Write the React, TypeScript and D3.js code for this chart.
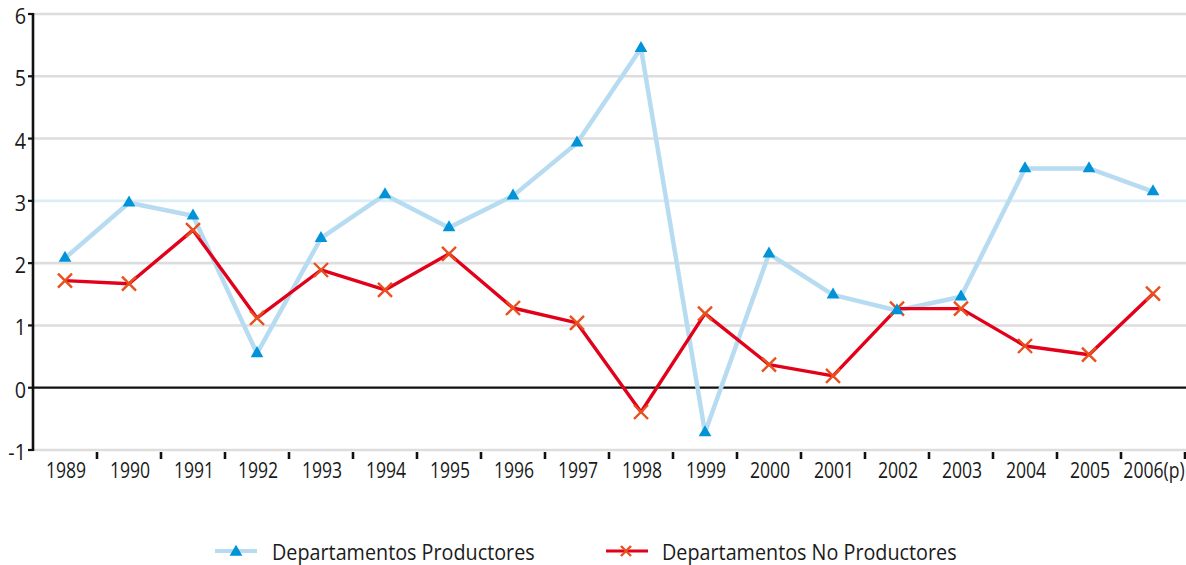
import React from "react";
import * as d3 from "d3";

const years = ["1989","1990","1991","1992","1993","1994","1995","1996","1997","1998","1999","2000","2001","2002","2003","2004","2005","2006(p)"];
const productores = [2.08,2.97,2.76,0.55,2.4,3.1,2.57,3.08,3.93,5.45,-0.72,2.15,1.49,1.24,1.46,3.52,3.52,3.15];
const noProductores = [1.72,1.67,2.53,1.12,1.89,1.57,2.15,1.28,1.04,-0.39,1.19,0.37,0.19,1.27,1.27,0.67,0.53,1.51];
const yTicks = [-1,0,1,2,3,4,5,6];
const seriesNames = ["Departamentos Productores","Departamentos No Productores"];

const W = 1186, H = 565;
const FONT = "'Open Sans', 'Noto Sans', sans-serif";

function SText(props: { x: number; y: number; sx: number; size: number; anchor?: string; children: React.ReactNode }) {
  return (
    <text transform={`translate(${props.x},${props.y}) scale(${props.sx},1)`} dy="0.36em"
      textAnchor={props.anchor || "start"} fontFamily={FONT} fontSize={props.size} fontWeight={500} fill="#1a1a1a">
      {props.children}
    </text>
  );
}

export default function App() {
  const x = d3.scaleBand<string>().domain(years).range([33, 1185]);
  const y = d3.scaleLinear().domain([-1, 6]).range([450, 14]);
  const cx = (i: number) => (x(years[i]) as number) + x.bandwidth() / 2;
  const line = d3.line<number>().x((_, i) => cx(i)).y(d => y(d));
  const tri = d3.symbol().type(d3.symbolTriangle).size(70)();
  const cross = (px: number, py: number, s: number) =>
    `M${px - s},${py - s}L${px + s},${py + s}M${px - s},${py + s}L${px + s},${py - s}`;

  return (
    <svg width={W} height={H} style={{ position: "absolute", left: 0, top: 0, background: "#fff" }}>
      {yTicks.map(t => (
        <line key={"g" + t} x1={33} x2={1186} y1={y(t)} y2={y(t)}
          stroke={t === 0 ? "#111" : t === 3 ? "#d9eef9" : "#dddddd"} strokeWidth={t === 0 ? 2.2 : 2.6} />
      ))}
      <line x1={33} x2={33} y1={y(6) - 1} y2={y(-1) + 1} stroke="#111" strokeWidth={2.6} />
      {yTicks.map(t => (
        <g key={"t" + t}>
          <line x1={28} x2={33} y1={y(t)} y2={y(t)} stroke="#111" strokeWidth={2.2} />
          <SText x={26} y={y(t) + 2} sx={0.9} size={22} anchor="end">{t}</SText>
        </g>
      ))}
      {years.map((yr, i) => (
        <g key={yr}>
          {i > 0 && <line x1={x(yr)} x2={x(yr)} y1={452} y2={459} stroke="#111" strokeWidth={2.6} />}
          <SText x={cx(i) + 1} y={470} sx={0.8} size={22} anchor="middle">{yr}</SText>
        </g>
      ))}
      <line x1={1185} x2={1185} y1={452} y2={459} stroke="#111" strokeWidth={2.6} />
      <path d={line(productores) || ""} fill="none" stroke="#b7dcf1" strokeWidth={4.5} strokeLinejoin="round" />
      <path d={line(noProductores) || ""} fill="none" stroke="#e2001a" strokeWidth={3.4} strokeLinejoin="round" />
      {noProductores.map((v, i) => (
        <path key={"x" + i} d={cross(cx(i), y(v), 7)} stroke="#e8501e" strokeWidth={2.4} fill="none" />
      ))}
      {productores.map((v, i) => (
        <path key={"p" + i} d={tri} transform={`translate(${cx(i)},${y(v)})`} fill="#0093d8" />
      ))}
      {/* legend */}
      <line x1={215} x2={257} y1={551} y2={551} stroke="#b7dcf1" strokeWidth={4} />
      <path d={tri} transform="translate(236,552)" fill="#0093d8" />
      <SText x={272} y={552} sx={0.92} size={21.5}>{seriesNames[0]}</SText>
      <line x1={606} x2={648} y1={551} y2={551} stroke="#e2001a" strokeWidth={3} />
      <path d={cross(626, 551, 5)} stroke="#e8501e" strokeWidth={2.4} fill="none" />
      <SText x={662} y={552} sx={0.92} size={21.5}>{seriesNames[1]}</SText>
    </svg>
  );
}
